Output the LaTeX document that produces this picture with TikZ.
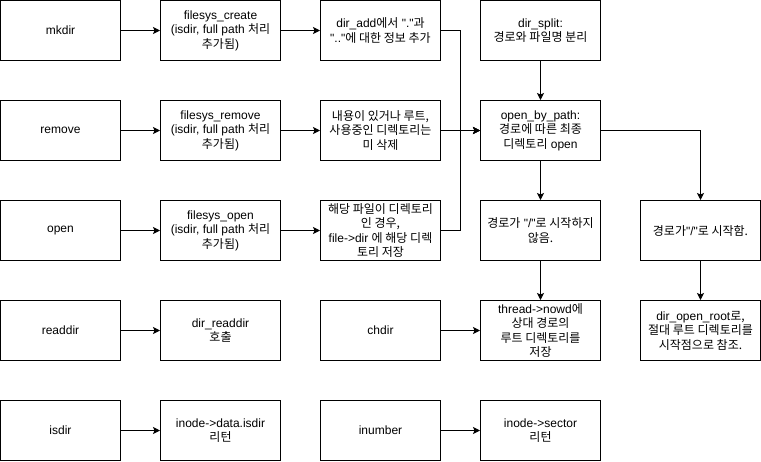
\documentclass[tikz,border=0pt]{standalone}
\usepackage{fontspec}
\setmainfont{Liberation Sans}[Ligatures=TeXOff]
\newfontfamily\krfont{Noto Sans CJK KR}
\newcommand\hg[1]{{\krfont #1}}
\usetikzlibrary{arrows.meta}
\begin{document}
\begin{tikzpicture}[x=1pt,y=-1pt,
  box/.style={draw, line width=1pt, minimum width=120pt, minimum height=60pt, inner sep=0pt, align=center, font=\fontsize{12}{14.5}\selectfont},
  arr/.style={line width=1pt, -{Stealth[length=7pt,width=7pt,inset=1.5pt]}}]
\useasboundingbox (-0.5,-0.5) rectangle (760.5,460.5);
\node[box] (mkdir) at (60,30) {mkdir};
\node[box] (fcreate) at (220,30) {filesys\_create\\(isdir, full path \hg{처리}\\\hg{추가됨})};
\node[box] (diradd) at (380,30) {dir\_add\hg{에서} "."\hg{과}\\".."\hg{에 대한 정보 추가}};
\node[box] (split) at (540,30) {dir\_split:\\\hg{경로와 파일명 분리}};
\node[box] (remove) at (60,130) {remove};
\node[box] (fremove) at (220,130) {filesys\_remove\\(isdir, full path \hg{처리}\\\hg{추가됨})};
\node[box] (rmcheck) at (380,130) {\hg{내용이 있거나 루트,}\\\hg{사용중인 디렉토리는}\\\hg{미 삭제}};
\node[box] (obp) at (540,130) {open\_by\_path:\\\hg{경로에 따른 최종}\\\hg{디렉토리} open};
\node[box] (open) at (60,230) {open};
\node[box] (fopen) at (220,230) {filesys\_open\\(isdir, full path \hg{처리}\\\hg{추가됨})};
\node[box] (opendir) at (380,230) {\hg{해당 파일이 디렉토리}\\\hg{인 경우,}\\file->dir \hg{에 해당 디렉}\\\hg{토리 저장}};
\node[box] (nots) at (540,230) {\hg{경로가} "/"\hg{로 시작하지}\\\hg{않음.}};
\node[box] (ts) at (700,230) {\hg{경로가}"/"\hg{로 시작함.}};
\node[box] (readdir) at (60,330) {readdir};
\node[box] (dreaddir) at (220,330) {dir\_readdir\\\hg{호출}};
\node[box] (chdir) at (380,330) {chdir};
\node[box] (nowd) at (540,330) {thread->nowd\hg{에}\\\hg{상대 경로의}\\\hg{루트 디렉토리를}\\\hg{저장}};
\node[box] (root) at (700,330) {dir\_open\_root\hg{로,}\\\hg{절대 루트 디렉토리를}\\\hg{시작점으로 참조.}};
\node[box] (isdir) at (60,430) {isdir};
\node[box] (idata) at (220,430) {inode->data.isdir\\\hg{리턴}};
\node[box] (inumber) at (380,430) {inumber};
\node[box] (isector) at (540,430) {inode->sector\\\hg{리턴}};
\coordinate (j) at (460,130);
\draw[arr] (mkdir) -- (fcreate);
\draw[arr] (fcreate) -- (diradd);
\draw[arr] (remove) -- (fremove);
\draw[arr] (fremove) -- (rmcheck);
\draw[arr] (open) -- (fopen);
\draw[arr] (fopen) -- (opendir);
\draw[arr] (readdir) -- (dreaddir);
\draw[arr] (isdir) -- (idata);
\draw[arr] (inumber) -- (isector);
\draw[arr] (chdir) -- (nowd);
\draw[arr] (diradd.east) -| (j) -- (obp.west);
\draw[arr] (opendir.east) -| (j) -- (obp.west);
\draw[arr] (rmcheck) -- (obp);
\draw[arr] (split) -- (obp);
\draw[arr] (obp) -- (nots);
\draw[arr] (obp.east) -| (ts.north);
\draw[arr] (ts) -- (root);
\draw[arr] (nots) -- (nowd);
\end{tikzpicture}
\end{document}
